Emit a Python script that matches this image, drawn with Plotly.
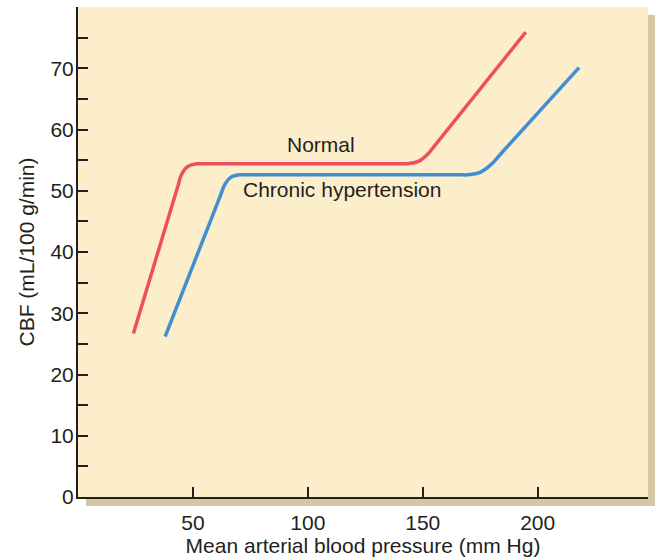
import plotly.graph_objects as go

# Data
normal_x = [24.1, 43.38, 44.89, 47.44, 51.62, 53.8, 140.97, 143.14, 148.26, 152.35, 155.9, 194.8]
normal_y = [26.7, 50.64, 52.52, 53.88, 54.4, 54.4, 54.4, 54.4, 54.83, 56.05, 57.7, 75.9]
chronic_x = [37.9, 62.0, 63.75, 66.33, 70.29, 72.46, 167.43, 169.6, 175.18, 179.79, 183.9, 218.0]
chronic_y = [26.2, 49.25, 50.92, 52.14, 52.6, 52.6, 52.6, 52.6, 53.04, 54.3, 56.0, 70.1]

x_tickvals = [50, 100, 150, 200]
y_tickvals = [0, 10, 20, 30, 40, 50, 60, 70]
y_minor = [5, 15, 25, 35, 45, 55, 65, 75]

labels = ["Normal", "Chronic hypertension"]
label_x = [105.7, 115.0]
label_y = [57.6, 50.2]

RED = "#EE4F5F"
BLUE = "#3F8FD2"
TXT = "#231F20"
FONT = "Liberation Sans, Arial, sans-serif"

fig = go.Figure()
fig.add_trace(go.Scatter(x=normal_x, y=normal_y, mode="lines",
                         line=dict(color=RED, width=3.5, shape="spline", smoothing=1),
                         hoverinfo="skip"))
fig.add_trace(go.Scatter(x=chronic_x, y=chronic_y, mode="lines",
                         line=dict(color=BLUE, width=3.5, shape="spline", smoothing=1),
                         hoverinfo="skip"))

for t, xx, yy in zip(labels, label_x, label_y):
    fig.add_annotation(x=xx, y=yy, text=t, showarrow=False,
                       font=dict(size=21, color=TXT, family=FONT))

W, H = 655, 558
L, R, T, B = 78, 7, 7, 61
pw = W - L - R
ph = H - T - B
# shadow then cream background
fig.add_shape(type="rect", xref="paper", yref="paper", layer="below",
              x0=8 / pw, x1=1 + 8 / pw, y0=-9 / ph, y1=1 - 8 / ph,
              fillcolor="#D5C6A4", line=dict(width=0))
fig.add_shape(type="rect", xref="paper", yref="paper", layer="below",
              x0=0, x1=1, y0=0, y1=1,
              fillcolor="#FDEECB", line=dict(width=0))

fig.update_layout(
    width=W, height=H,
    margin=dict(l=L, r=R, t=T, b=B, autoexpand=False),
    paper_bgcolor="white", plot_bgcolor="rgba(0,0,0,0)",
    showlegend=False,
    font=dict(family=FONT, size=21, color=TXT),
)
fig.update_xaxes(range=[0, 248], showgrid=False, zeroline=False, automargin=False,
                 showline=True, linecolor="#231F20", linewidth=2,
                 tickmode="array", tickvals=x_tickvals,
                 ticks="inside", ticklen=10, tickwidth=2, tickcolor="#231F20",
                 tickfont=dict(size=21, color=TXT, family=FONT),
                 ticklabelstandoff=6,
                 title=dict(text="Mean arterial blood pressure (mm Hg)",
                            font=dict(size=21, color=TXT, family=FONT), standoff=4))
fig.update_yaxes(range=[0, 80], showgrid=False, zeroline=False, automargin=False,
                 showline=True, linecolor="#231F20", linewidth=2,
                 tickmode="array", tickvals=y_tickvals,
                 ticks="inside", ticklen=10, tickwidth=2, tickcolor="#231F20",
                 minor=dict(tickvals=y_minor, ticks="inside", ticklen=10,
                            tickwidth=2, tickcolor="#231F20", showgrid=False),
                 tickfont=dict(size=21, color=TXT, family=FONT),
                 ticklabelstandoff=-2,
                 title=dict(text="CBF (mL/100 g/min)",
                            font=dict(size=21, color=TXT, family=FONT), standoff=10))

fig.write_html("out.html", config={"displayModeBar": False},
               post_script="document.body.style.margin='0';document.body.style.overflow='hidden';")
